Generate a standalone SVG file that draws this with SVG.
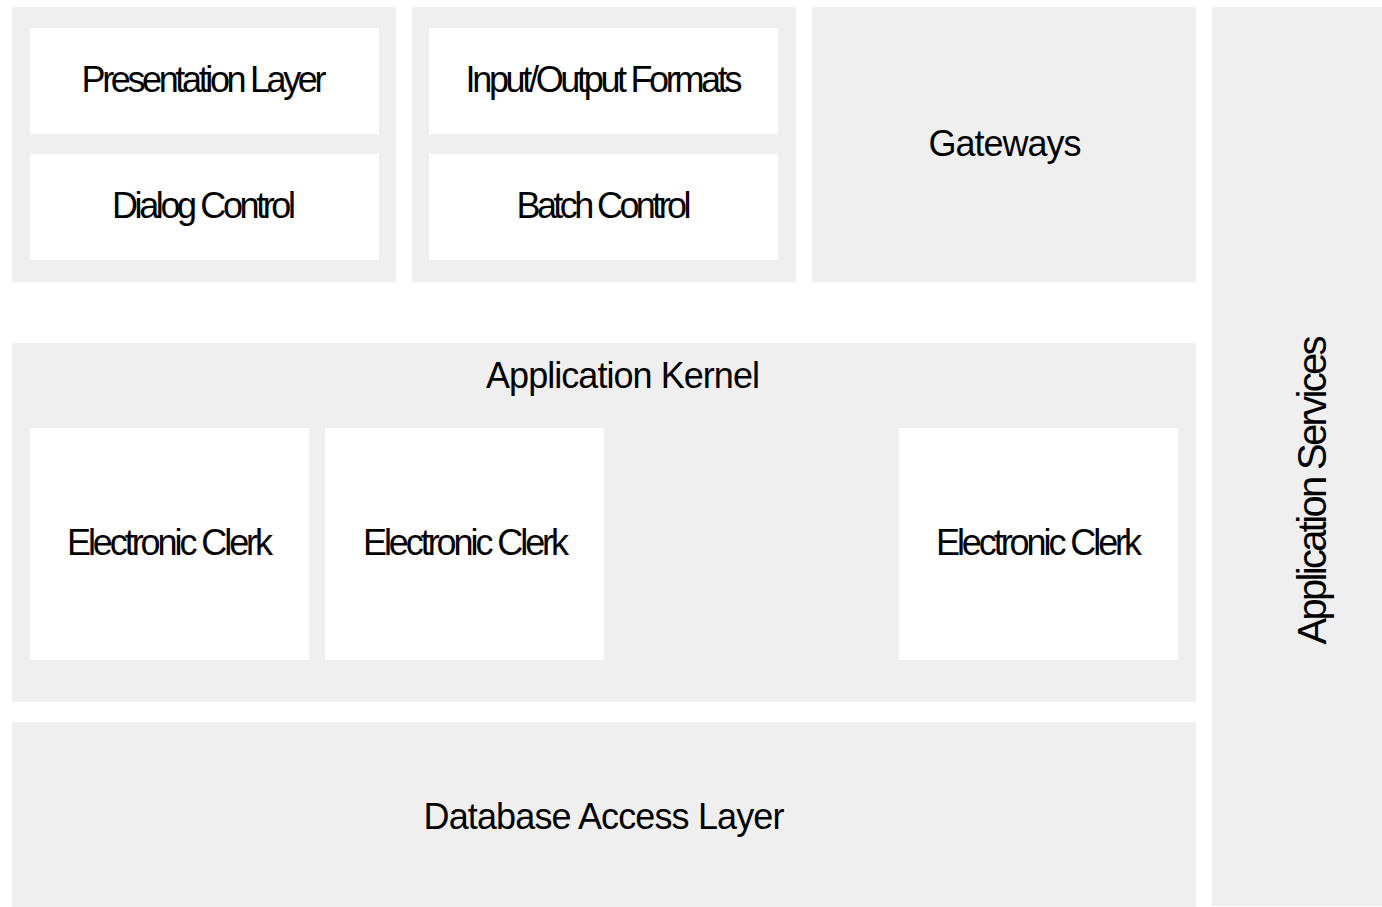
<svg xmlns="http://www.w3.org/2000/svg" width="1382" height="907" viewBox="0 0 1382 907">
<style>
.outer{fill:#efefef}
.inner{fill:#ffffff}
text{font-family:"Liberation Sans",Arial,sans-serif;font-size:36px;fill:#000;text-anchor:middle}
</style>
<rect width="1382" height="907" fill="#ffffff"/>
<g id="group-ui">
<rect class="outer" x="12" y="7" width="384" height="275"/>
<g id="presentation-layer"><rect class="inner" x="30" y="28" width="349" height="106"/><text x="204" y="92" textLength="245">Presentation Layer</text></g>
<g id="dialog-control"><rect class="inner" x="30" y="154" width="349" height="106"/><text x="204" y="218" textLength="184">Dialog Control</text></g>
</g>
<g id="group-batch">
<rect class="outer" x="412" y="7" width="384" height="275"/>
<g id="io-formats"><rect class="inner" x="429" y="28" width="349" height="106"/><text x="604" y="92" textLength="277">Input/Output Formats</text></g>
<g id="batch-control"><rect class="inner" x="429" y="154" width="349" height="106"/><text x="604" y="218" textLength="175">Batch Control</text></g>
</g>
<g id="gateways"><rect class="outer" x="812" y="7" width="384" height="275"/><text x="1005" y="156" textLength="153">Gateways</text></g>
<g id="application-kernel">
<rect class="outer" x="12" y="343" width="1184" height="359"/>
<text x="623" y="388" textLength="274">Application Kernel</text>
<g id="clerk-1"><rect class="inner" x="30" y="428" width="279" height="232"/><text x="170" y="555" textLength="206">Electronic Clerk</text></g>
<g id="clerk-2"><rect class="inner" x="325" y="428" width="279" height="232"/><text x="466" y="555" textLength="206">Electronic Clerk</text></g>
<g id="clerk-3"><rect class="inner" x="899" y="428" width="279" height="232"/><text x="1039" y="555" textLength="206">Electronic Clerk</text></g>
</g>
<g id="database-access-layer"><rect class="outer" x="12" y="722" width="1184" height="185"/><text x="604" y="829" textLength="361">Database Access Layer</text></g>
<g id="application-services"><rect class="outer" x="1212" y="7" width="170" height="899"/><text x="0" y="0" transform="translate(1326 490) rotate(-90)" style="font-size:40px" textLength="309">Application Services</text></g>
<g id="connectors"/>
</svg>
